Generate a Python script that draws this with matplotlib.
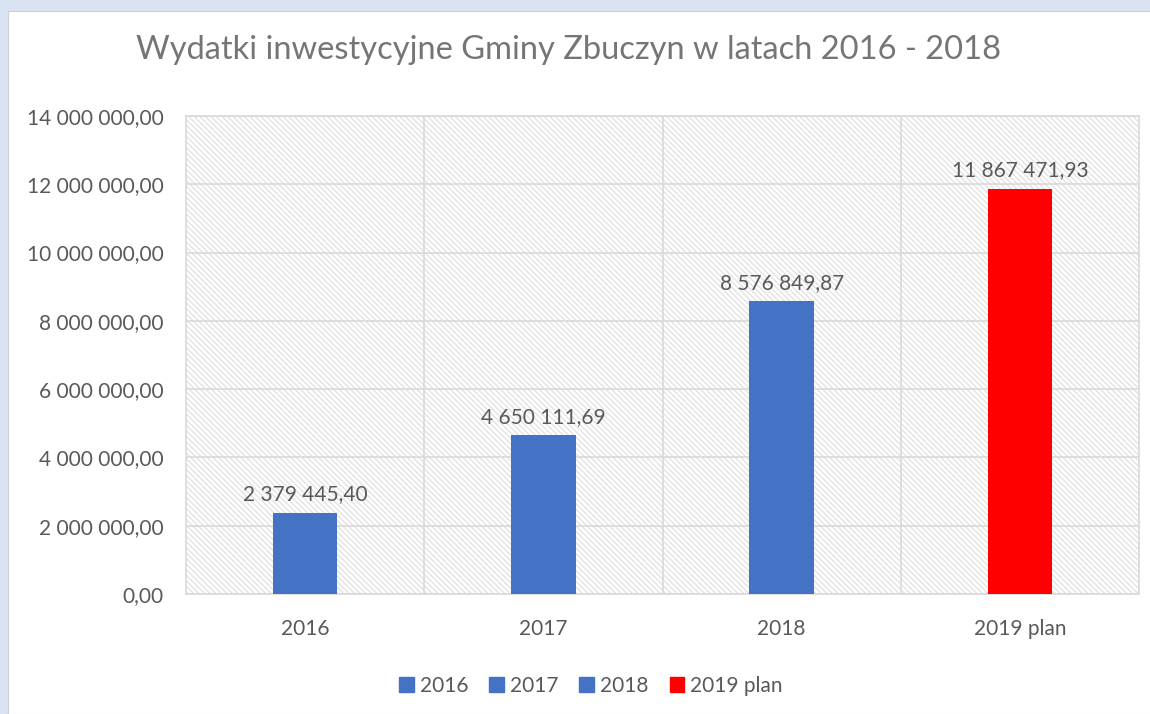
import matplotlib.pyplot as plt
from matplotlib.patches import Rectangle

# dane
kategorie = ['2016', '2017', '2018', '2019 plan']
wydatki = [2379445.40, 4650111.69, 8576849.87, 11867471.93]
kolory = ['#4472C4', '#4472C4', '#4472C4', '#FF0000']
etykiety_y = [0, 2000000, 4000000, 6000000, 8000000, 10000000, 12000000, 14000000]


def pl_format(v):
    s = '{:,.2f}'.format(v)
    return s.replace(',', ' ').replace('.', ',')


plt.rcParams['font.family'] = ['Lato', 'DejaVu Sans']
plt.rcParams['hatch.color'] = '#E3E3E3'
plt.rcParams['hatch.linewidth'] = 1.0
tekst = '#595959'

fig = plt.figure(figsize=(11.5, 7.14), dpi=100)
fig.patch.set_facecolor('#DAE3F3')
# biale tlo wykresu
tlo = fig.add_axes([8 / 1150, 0, 1, 1 - 11 / 714], zorder=-5)
tlo.set_facecolor('white')
tlo.set_xticks([])
tlo.set_yticks([])
for s in tlo.spines.values():
    s.set_color('#D0D0D0')

ax = fig.add_axes([186 / 1150, 1 - 594 / 714, (1139 - 186) / 1150, (594 - 116) / 714])
ax.set_facecolor('white')
ax.add_patch(Rectangle((0, 0), 1, 1, transform=ax.transAxes, facecolor='white',
                       edgecolor='#E3E3E3', hatch='\\\\\\\\\\\\', lw=0, zorder=0))

x = range(len(kategorie))
slupki = ax.bar(x, wydatki, width=0.27, color=kolory, zorder=3)
for i in x:
    ax.text(i, wydatki[i] + 250000, pl_format(wydatki[i]), ha='center', va='bottom',
            fontsize=15, color=tekst, zorder=4)

ax.set_xlim(-0.5, 3.5)
ax.set_ylim(0, 14000000)
ax.set_yticks(etykiety_y)
ax.set_yticklabels([pl_format(v) for v in etykiety_y])
ax.set_xticks(list(x))
ax.set_xticklabels(kategorie)
ax.set_xticks([0.5, 1.5, 2.5], minor=True)
ax.tick_params(axis='both', which='both', length=0, labelsize=15, labelcolor=tekst)
ax.tick_params(axis='y', pad=16)
ax.tick_params(axis='x', pad=18)
ax.grid(axis='y', color='#D9D9D9', lw=1.2, zorder=1)
ax.grid(axis='x', which='minor', color='#D9D9D9', lw=1.2, zorder=1)
for s in ax.spines.values():
    s.set_color('#D9D9D9')
    s.set_linewidth(1.2)

fig.text(569 / 1150, 1 - 50 / 714, 'Wydatki inwestycyjne Gminy Zbuczyn w latach 2016 - 2018',
         ha='center', va='center', fontsize=23.5, color='#757575')

uchwyty = [Rectangle((0, 0), 1, 1, color=c) for c in kolory]
fig.legend(uchwyty, kategorie, loc='center', bbox_to_anchor=(591 / 1150, 1 - 686 / 714),
           ncol=4, frameon=False, fontsize=15, labelcolor=tekst, handlelength=0.7,
           handleheight=0.7, handletextpad=0.3, columnspacing=1.0)

fig.savefig('out.png', dpi=100)
